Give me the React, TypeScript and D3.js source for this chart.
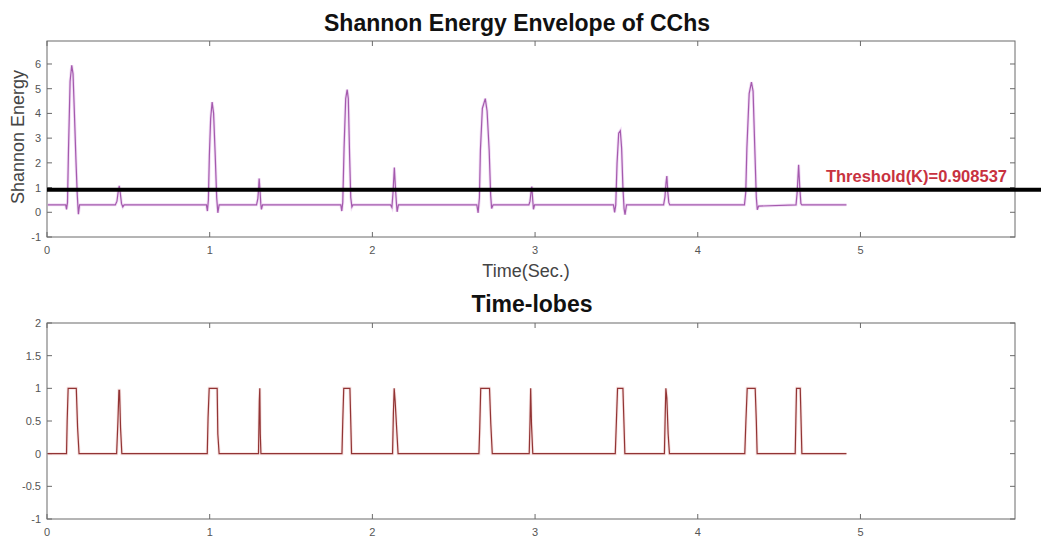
import React from "react";
import * as d3 from "d3";

// Shannon energy envelope vertices: [time (s), energy]
const envelope: [number, number][] = [
  [0.005, 0.3], [0.115, 0.3], [0.12, 0.12], [0.126, 0.4], [0.132, 2.5], [0.142, 5.3], [0.152, 5.95],
  [0.16, 5.6], [0.168, 4.1], [0.178, 2.1], [0.186, 0.7], [0.193, -0.08], [0.2, 0.3], [0.42, 0.3],
  [0.43, 0.45], [0.437, 0.8], [0.444, 1.07], [0.451, 0.75], [0.458, 0.35], [0.466, 0.22], [0.474, 0.3],
  [0.98, 0.3], [0.986, 0.05], [0.992, 0.5], [0.998, 2.3], [1.006, 3.8], [1.015, 4.46], [1.024, 4.0],
  [1.034, 2.3], [1.043, 0.6], [1.05, -0.02], [1.058, 0.3], [1.288, 0.3], [1.296, 0.55], [1.3, 0.9],
  [1.304, 1.37], [1.309, 0.9], [1.314, 0.35], [1.318, 0.12], [1.325, 0.3], [1.806, 0.3], [1.812, 0.05],
  [1.818, 0.4], [1.826, 2.6], [1.836, 4.6], [1.845, 4.96], [1.852, 4.6], [1.86, 2.3], [1.867, 0.6],
  [1.874, 0.22], [1.88, 0.3], [2.112, 0.3], [2.12, 0.2], [2.127, 0.8], [2.135, 1.81], [2.142, 0.95],
  [2.148, 0.35], [2.152, 0.02], [2.16, 0.3], [2.642, 0.3], [2.65, -0.02], [2.658, 0.6], [2.664, 2.5],
  [2.676, 4.2], [2.694, 4.6], [2.705, 4.1], [2.718, 2.5], [2.727, 0.7], [2.733, 0.15], [2.742, 0.3],
  [2.962, 0.3], [2.969, 0.45], [2.975, 0.8], [2.98, 1.04], [2.985, 0.55], [2.99, 0.12], [2.997, 0.3],
  [3.482, 0.3], [3.489, 0.0], [3.496, 0.3], [3.504, 2.0], [3.514, 3.2], [3.524, 3.3], [3.532, 2.6],
  [3.54, 1.0], [3.547, 0.15], [3.553, -0.1], [3.562, 0.3], [3.79, 0.3], [3.798, 0.6], [3.805, 1.2],
  [3.81, 1.47], [3.816, 0.8], [3.822, 0.4], [3.828, 0.3], [4.287, 0.3], [4.295, 0.8], [4.302, 2.6],
  [4.316, 4.8], [4.33, 5.27], [4.34, 4.9], [4.351, 2.5], [4.36, 0.6], [4.366, 0.1], [4.374, 0.25],
  [4.604, 0.3], [4.611, 0.8], [4.62, 1.92], [4.627, 1.0], [4.634, 0.35], [4.64, 0.3], [4.914, 0.3],
];

// Time-lobe (binary) vertices: [time (s), lobe]
const lobes: [number, number][] = [
  [0.005, 0], [0.12, 0], [0.124, 0.5], [0.13, 1], [0.18, 1], [0.188, 0.4], [0.197, 0],
  [0.428, 0], [0.436, 0.5], [0.442, 0.97], [0.446, 0.97], [0.452, 0.4], [0.46, 0],
  [0.985, 0], [0.99, 0.55], [0.997, 1], [1.046, 1], [1.05, 0.3], [1.058, 0],
  [1.3, 0], [1.305, 0.8], [1.308, 1.0], [1.311, 0.3], [1.315, 0],
  [1.813, 0], [1.818, 0.5], [1.824, 1], [1.862, 1], [1.867, 0.5], [1.872, 0],
  [2.124, 0], [2.129, 0.6], [2.134, 1.0], [2.14, 0.8], [2.15, 0.35], [2.158, 0],
  [2.655, 0], [2.66, 0.4], [2.666, 1], [2.72, 1], [2.728, 0.45], [2.737, 0],
  [2.964, 0], [2.969, 0.5], [2.973, 1.0], [2.978, 0.45], [2.986, 0],
  [3.493, 0], [3.5, 0.5], [3.507, 1], [3.54, 1], [3.546, 0.5], [3.552, 0],
  [3.795, 0], [3.8, 0.6], [3.804, 1.0], [3.81, 0.85], [3.818, 0.3], [3.826, 0],
  [4.289, 0], [4.296, 0.5], [4.304, 1], [4.353, 1], [4.36, 0.5], [4.365, 0],
  [4.599, 0], [4.603, 0.5], [4.607, 1], [4.63, 1], [4.635, 0.5], [4.64, 0], [4.914, 0],
];

const thresholdK = 0.908537;
const timeTicks = [0, 1, 2, 3, 4, 5];
const energyTicks = [-1, 0, 1, 2, 3, 4, 5, 6];
const lobeTicks = [-1, -0.5, 0, 0.5, 1, 1.5, 2];

const W = 1041;
const H = 538;
const FONT = "'Liberation Sans', Arial, Helvetica, sans-serif";
const AXIS = "#6a6a6a";
const TICKTXT = "#555";

const x = d3.scaleLinear().domain([0, 5.95]).range([47, 1015]);
const yTop = d3.scaleLinear().domain([-1, 6.93]).range([237, 41]);
const yBot = d3.scaleLinear().domain([-1, 2]).range([519, 323]);

function Frame({ y, ticks, fmt }: { y: d3.ScaleLinear<number, number>; ticks: number[]; fmt: (v: number) => string }) {
  const [x0, x1] = x.range();
  const [yb, yt] = y.range();
  const tl = 5;
  return (
    <g>
      <rect x={x0} y={yt} width={x1 - x0} height={yb - yt} fill="none" stroke={AXIS} strokeWidth={1} />
      {timeTicks.map((t) => (
        <g key={"x" + t}>
          <line x1={x(t)} x2={x(t)} y1={yb} y2={yb - tl} stroke={AXIS} />
          <line x1={x(t)} x2={x(t)} y1={yt} y2={yt + tl} stroke={AXIS} />
          <text x={x(t)} y={yb + 17} fontSize={11} fill={TICKTXT} textAnchor="middle" fontFamily={FONT}>
            {t}
          </text>
        </g>
      ))}
      {ticks.map((v) => (
        <g key={"y" + v}>
          <line x1={x0} x2={x0 + tl} y1={y(v)} y2={y(v)} stroke={AXIS} />
          <line x1={x1} x2={x1 - tl} y1={y(v)} y2={y(v)} stroke={AXIS} />
          <text x={x0 - 6} y={y(v) + 4} fontSize={11} fill={TICKTXT} textAnchor="end" fontFamily={FONT}>
            {fmt(v)}
          </text>
        </g>
      ))}
    </g>
  );
}

export default function App() {
  const envLine = d3
    .line<[number, number]>()
    .x((d) => x(d[0]))
    .y((d) => yTop(d[1]));
  const lobeLine = d3
    .line<[number, number]>()
    .x((d) => x(d[0]))
    .y((d) => yBot(d[1]));

  return (
    <svg width={W} height={H} style={{ position: "absolute", left: 0, top: 0, background: "#fff" }}>
      <rect x={0} y={0} width={W} height={H} fill="#fff" />

      {/* Upper panel: Shannon energy envelope */}
      <text x={517} y={31} fontSize={23} fontWeight="bold" fill="#111" textAnchor="middle" fontFamily={FONT}>
        Shannon Energy Envelope of CChs
      </text>
      <Frame y={yTop} ticks={energyTicks} fmt={(v) => String(v)} />
      <path d={envLine(envelope) || ""} fill="none" stroke="#e8c4ee" strokeWidth={3} opacity={0.6} />
      <path d={envLine(envelope) || ""} fill="none" stroke="#a45aad" strokeWidth={1.2} />
      <line x1={x(0)} x2={W} y1={yTop(thresholdK)} y2={yTop(thresholdK)} stroke="#000" strokeWidth={4} />
      <text x={1007} y={182} fontSize={16.5} fontWeight="bold" fill="#c8323f" textAnchor="end" fontFamily={FONT}>
        {`Threshold(K)=${thresholdK}`}
      </text>
      <text x={526} y={277} fontSize={18} fill="#444" textAnchor="middle" fontFamily={FONT}>
        Time(Sec.)
      </text>
      <text
        transform="translate(24,137) rotate(-90)"
        fontSize={18}
        fill="#444"
        textAnchor="middle"
        fontFamily={FONT}
      >
        Shannon Energy
      </text>

      {/* Lower panel: time lobes */}
      <text x={532} y={312} fontSize={23} fontWeight="bold" fill="#111" textAnchor="middle" fontFamily={FONT}>
        Time-lobes
      </text>
      <Frame y={yBot} ticks={lobeTicks} fmt={(v) => String(v)} />
      <path d={lobeLine(lobes) || ""} fill="none" stroke="#f2d0d0" strokeWidth={3} opacity={0.6} />
      <path d={lobeLine(lobes) || ""} fill="none" stroke="#923434" strokeWidth={1.2} />
    </svg>
  );
}
